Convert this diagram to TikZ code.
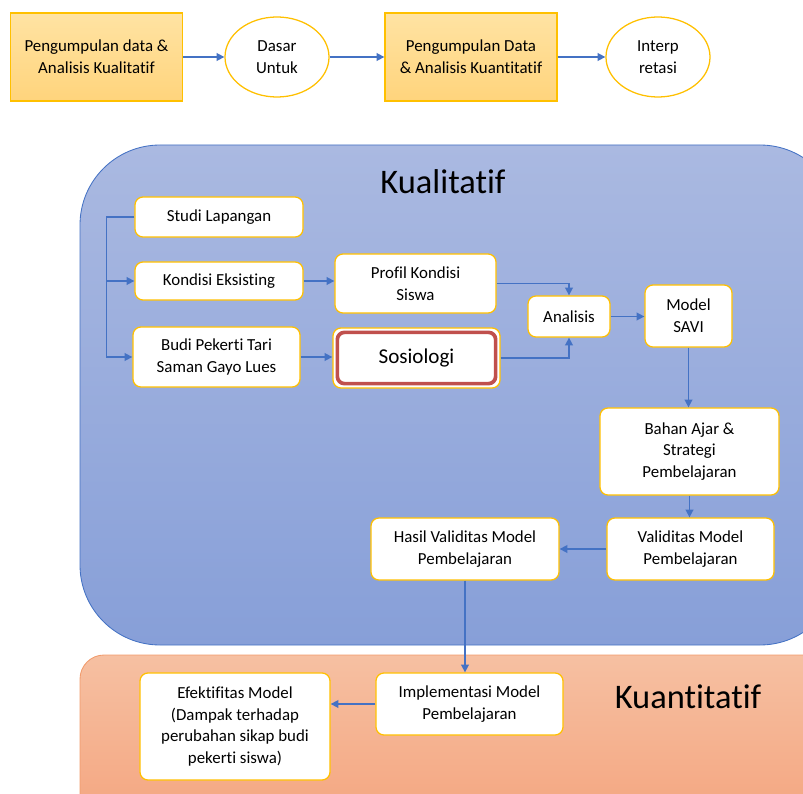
\documentclass[tikz,border=0pt]{standalone}
\usepackage{fontspec}
\setmainfont{Carlito}[Ligatures={NoCommon,NoRequired,NoContextual},Contextuals=NoAlternate]
\usetikzlibrary{arrows.meta,shapes.geometric}
\definecolor{linkblue}{HTML}{4472C4}
\definecolor{goldline}{HTML}{FFC000}
\definecolor{sosiored}{HTML}{C0504D}
\definecolor{kualtop}{HTML}{AAB9E1}
\definecolor{kualbot}{HTML}{879FD8}
\definecolor{kuantop}{HTML}{F6C0A2}
\definecolor{kuanbot}{HTML}{F4A47E}
\definecolor{kuanline}{HTML}{F19B6C}
\definecolor{phasetop}{HTML}{FFE3A3}
\definecolor{phasebot}{HTML}{FFD47C}
\begin{document}
\begin{tikzpicture}[x=0.025cm,y=-0.025cm,
    font=\fontsize{12}{15.5}\selectfont,
    phase/.style={draw=goldline,line width=0.9pt,top color=phasetop,bottom color=phasebot,
        align=center,inner sep=0pt,minimum width=4.3cm,minimum height=2.2cm},
    oval/.style={draw=goldline,line width=0.9pt,fill=white,ellipse,align=center,inner sep=0pt,
        minimum width=2.6cm,minimum height=2cm},
    wbox/.style={draw=goldline,line width=0.9pt,fill=white,rounded corners=0.2cm,
        align=center,inner sep=0pt},
    arrow/.style={draw=linkblue,line width=1.1pt,-{Triangle[length=5.5pt,width=5.5pt]}},
    title/.style={font=\fontsize{24.5}{28}\selectfont}]
    \useasboundingbox (0,0) rectangle (803,794);
    % top row
    \node[phase] (kualphase) at (96.5,57) {Pengumpulan data \&\\Analisis Kualitatif};
    \node[oval] (dasar) at (277,57) {Dasar\\Untuk};
    \node[phase] (kuanphase) at (471,57) {Pengumpulan Data\\\& Analisis Kuantitatif};
    \node[oval] (interp) at (658,57) {Interp\\retasi};
    \draw[arrow] (kualphase.east) -- (dasar.west);
    \draw[arrow] (dasar.east) -- (kuanphase.west);
    \draw[arrow] (kuanphase.east) -- (interp.west);
    % regions
    \shade[draw=linkblue,line width=0.6pt,top color=kualtop,bottom color=kualbot,rounded corners=2cm]
        (80,145) rectangle (840,645);
    \shade[draw=kuanline,line width=0.6pt,top color=kuantop,bottom color=kuanbot,rounded corners=0.6cm]
        (80,655) rectangle (840,830);
    \node[title] (kualtitle) at (443,182) {Kualitatif};
    \node[title] (kuantitle) at (688,697) {Kuantitatif};
    % kualitatif boxes
    \node[wbox,minimum width=4.2cm,minimum height=1cm] (studi) at (219,217) {Studi Lapangan};
    \node[wbox,minimum width=4.2cm,minimum height=0.95cm] (kondisi) at (219,281) {Kondisi Eksisting};
    \node[wbox,minimum width=4.175cm,minimum height=1.5cm] (budi) at (216.5,357) {Budi Pekerti Tari\\Saman Gayo Lues};
    \node[wbox,minimum width=4.025cm,minimum height=1.475cm] (profil) at (415.5,283.5) {Profil Kondisi\\Siswa};
    \node[wbox,minimum width=4.175cm,minimum height=1.5cm,font=\fontsize{15}{18}\selectfont] (sosio) at (416.5,358) {Sosiologi};
    \draw[sosiored,line width=2.6pt,rounded corners=0.18cm]
        ([shift={(5,5)}]sosio.north west) rectangle ([shift={(-5,-5)}]sosio.south east);
    \node[wbox,minimum width=2.05cm,minimum height=1.025cm] (analisis) at (569,316.5) {Analisis};
    \node[wbox,minimum width=2.175cm,minimum height=1.55cm] (savi) at (688.5,316) {Model\\SAVI};
    \node[wbox,minimum width=4.475cm,minimum height=2.175cm] (bahan) at (689.5,451.5) {Bahan Ajar \&\\Strategi\\Pembelajaran};
    \node[wbox,minimum width=4.175cm,minimum height=1.55cm] (valid) at (690.5,549) {Validitas Model\\Pembelajaran};
    \node[wbox,minimum width=4.7cm,minimum height=1.55cm] (hasil) at (465,549) {Hasil Validitas Model\\Pembelajaran};
    % kuantitatif boxes
    \node[wbox,minimum width=4.675cm,minimum height=1.55cm] (impl) at (469.5,704) {Implementasi Model\\Pembelajaran};
    \node[wbox,minimum width=4.75cm,minimum height=2.675cm] (efek) at (235,726.5)
        {Efektifitas Model\\(Dampak terhadap\\perubahan sikap budi\\pekerti siswa)};
    % connectors
    \draw[arrow] (studi.west) -- ++(-28,0) coordinate (bus) |- (budi.west);
    \draw[arrow] (bus |- kondisi.west) -- (kondisi.west);
    \draw[arrow] (kondisi.east) -- (kondisi.east -| profil.west);
    \draw[arrow] (budi.east) -- (budi.east -| sosio.west);
    \draw[arrow] (profil.east) -| (analisis.north);
    \draw[arrow] (sosio.east) -| (analisis.south);
    \draw[arrow] (analisis.east) -- (analisis.east -| savi.west);
    \draw[arrow] (savi.south) -- (savi.south |- bahan.north);
    \draw[arrow] (bahan.south) -- (bahan.south |- valid.north);
    \draw[arrow] (valid.west) -- (valid.west -| hasil.east);
    \draw[arrow] (hasil.south) -- (hasil.south |- impl.north);
    \draw[arrow] (impl.west) -- (impl.west -| efek.east);
\end{tikzpicture}
\end{document}
